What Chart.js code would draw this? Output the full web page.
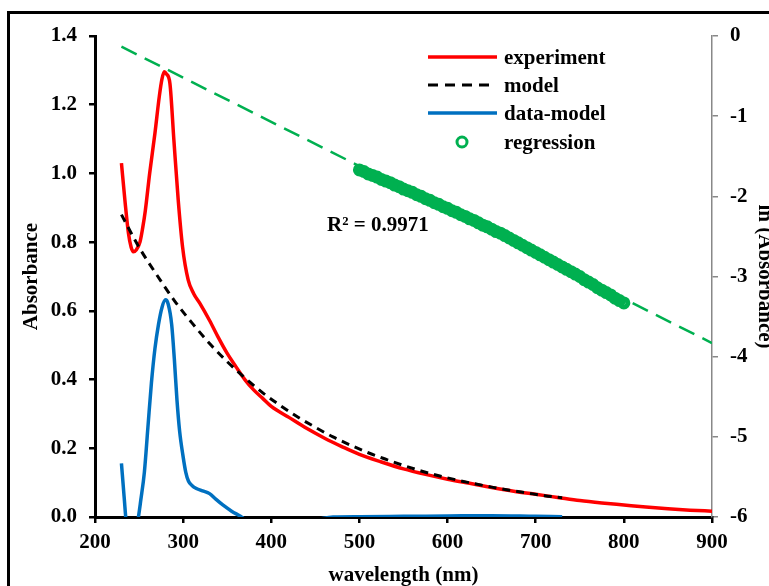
<!DOCTYPE html>
<html>
<head>
<meta charset="utf-8">
<script src="https://cdn.jsdelivr.net/npm/chart.js@4/dist/chart.umd.min.js"></script>
<style>
  html, body { margin: 0; padding: 0; background: #fff; overflow: hidden; }
  #wrap { position: relative; width: 769px; height: 586px; }
  #frame { position: absolute; left: 7px; top: 11px; width: 900px; height: 700px; border: 3px solid #000; }
  #main-chart { position: absolute; left: 0; top: 0; }
</style>
</head>
<body>
<div id="wrap">
  <div id="frame"></div>
  <canvas id="main-chart" width="769" height="586"></canvas>
</div>
<script>
// experiment (absorbance vs wavelength, nm)
const expWl = [230, 234, 238, 241, 243.5, 247, 251, 254, 257, 262, 268, 273, 276, 278.5, 281, 285, 289.5, 294.4, 299.3, 305.7, 312, 319, 330, 340, 350, 360, 370, 380, 390, 400, 420, 440, 460, 480, 500, 525, 550, 575, 600, 625, 650, 675, 700, 725, 750, 775, 800, 825, 850, 875, 900]
const expAbs = [1.03, 0.92, 0.825, 0.785, 0.772, 0.778, 0.80, 0.84, 0.89, 1.00, 1.117, 1.225, 1.275, 1.296, 1.29, 1.262, 1.097, 0.923, 0.787, 0.69, 0.65, 0.622, 0.572, 0.522, 0.476, 0.437, 0.40, 0.37, 0.346, 0.322, 0.29, 0.258, 0.23, 0.205, 0.182, 0.16, 0.14, 0.124, 0.11, 0.098, 0.086, 0.075, 0.066, 0.057, 0.048, 0.041, 0.035, 0.029, 0.024, 0.02, 0.017]

// model
const modelWl = [230, 250, 270, 290, 310, 330, 350, 370, 390, 410, 430, 450, 470, 490, 510, 530, 550, 570, 590, 610, 630, 650, 670, 690, 710, 730]
const modelAbs = [0.88, 0.785, 0.705, 0.63, 0.565, 0.505, 0.452, 0.405, 0.362, 0.325, 0.291, 0.261, 0.233, 0.209, 0.187, 0.168, 0.15, 0.134, 0.12, 0.108, 0.097, 0.087, 0.078, 0.07, 0.062, 0.056]

// data - model
const diffWl = [230, 233, 236, 240, 244, 248, 252, 256, 260, 264, 268, 272, 276, 280, 283, 287, 290, 293, 296, 300, 303, 306, 310, 315, 322, 330, 337, 345, 355, 365, 372, 390, 420, 450, 470, 500, 550, 600, 650, 700, 730]
const diffAbs = [0.156, 0.06, -0.03, -0.06, -0.06, -0.02, 0.05, 0.13, 0.26, 0.39, 0.49, 0.56, 0.61, 0.632, 0.62, 0.56, 0.46, 0.34, 0.25, 0.175, 0.13, 0.105, 0.092, 0.083, 0.076, 0.068, 0.052, 0.035, 0.017, 0.002, -0.01, -0.02, -0.015, -0.008, 0.0, 0.001, 0.002, 0.003, 0.004, 0.002, 0.001]

// ln(absorbance) points used for the regression, 500-800 nm
const regWl = [500, 505, 510, 515, 520, 525, 530, 535, 540, 545, 550, 555, 560, 565, 570, 575, 580, 585, 590, 595, 600, 605, 610, 615, 620, 625, 630, 635, 640, 645, 650, 655, 660, 665, 670, 675, 680, 685, 690, 695, 700, 705, 710, 715, 720, 725, 730, 735, 740, 745, 750, 755, 760, 765, 770, 775, 780, 785, 790, 795, 800]
const regLn = [-1.67, -1.69, -1.72, -1.74, -1.76, -1.79, -1.81, -1.83, -1.86, -1.88, -1.91, -1.93, -1.95, -1.98, -2.00, -2.03, -2.05, -2.08, -2.10, -2.13, -2.15, -2.18, -2.20, -2.23, -2.25, -2.28, -2.30, -2.33, -2.36, -2.38, -2.41, -2.44, -2.46, -2.49, -2.52, -2.55, -2.58, -2.61, -2.64, -2.67, -2.70, -2.73, -2.76, -2.79, -2.82, -2.85, -2.88, -2.91, -2.94, -2.97, -3.00, -3.04, -3.07, -3.10, -3.14, -3.17, -3.20, -3.23, -3.27, -3.30, -3.33]

// fitted line on the ln axis
const fitWl = [230, 900]
const fitLn = [-0.133, -3.83]
const rSquared = 'R² = 0.9971'

const xTicks = [200, 300, 400, 500, 600, 700, 800, 900]

const RED = '#ff0000'
const BLUE = '#0070c0'
const GREEN = '#00b050'
const FONT = '"Liberation Serif", "Times New Roman", serif'

const toPoints = (xs, ys) => xs.map((x, i) => ({ x: x, y: ys[i] }))

const overlayPlugin = {
  id: 'overlay',
  afterDatasetsDraw(chart) {
    const ctx = chart.ctx
    ctx.save()
    ctx.font = `bold 21px ${FONT}`
    ctx.fillStyle = '#000'
    ctx.textAlign = 'left'
    ctx.textBaseline = 'alphabetic'

    const items = [
      { label: 'experiment', y: 57, kind: 'line', color: RED, width: 3.5, dash: [] },
      { label: 'model', y: 85, kind: 'line', color: '#000', width: 3, dash: [10, 7] },
      { label: 'data-model', y: 113, kind: 'line', color: BLUE, width: 3.5, dash: [] },
      { label: 'regression', y: 142, kind: 'point', color: GREEN }
    ]
    items.forEach(item => {
      if (item.kind === 'line') {
        ctx.beginPath()
        ctx.setLineDash(item.dash)
        ctx.strokeStyle = item.color
        ctx.lineWidth = item.width
        ctx.moveTo(428, item.y)
        ctx.lineTo(item.dash.length ? 490 : 497, item.y)
        ctx.stroke()
        ctx.setLineDash([])
      } else {
        ctx.beginPath()
        ctx.strokeStyle = item.color
        ctx.lineWidth = 3
        ctx.arc(462, item.y, 5, 0, Math.PI * 2)
        ctx.stroke()
      }
      ctx.fillText(item.label, 504, item.y + 7)
    })

    ctx.fillText(rSquared, 327, 231)
    ctx.restore()
  }
}

const runChart = () => {
  const chartCanvas = document.getElementById('main-chart')
  const chartContext = chartCanvas.getContext('2d')

  Chart.defaults.font.family = FONT
  Chart.defaults.font.size = 21
  Chart.defaults.font.weight = 'bold'
  Chart.defaults.color = '#000'

  const myChart = new Chart(chartContext, {
    type: 'line',
    data: {
      datasets: [
        {
          label: 'regression',
          data: toPoints(regWl, regLn),
          yAxisID: 'y2',
          showLine: false,
          pointRadius: 4,
          pointBorderWidth: 5,
          pointBorderColor: GREEN,
          pointBackgroundColor: 'rgba(0,0,0,0)',
          order: 0
        },
        {
          label: 'fit',
          data: toPoints(fitWl, fitLn),
          yAxisID: 'y2',
          borderColor: GREEN,
          borderWidth: 2.5,
          borderDash: [17, 9],
          pointRadius: 0,
          order: 1
        },
        {
          label: 'model',
          data: toPoints(modelWl, modelAbs),
          borderColor: '#000',
          borderWidth: 3,
          borderDash: [8, 6],
          pointRadius: 0,
          cubicInterpolationMode: 'monotone',
          order: 2
        },
        {
          label: 'data-model',
          data: toPoints(diffWl, diffAbs),
          borderColor: BLUE,
          borderWidth: 3.5,
          pointRadius: 0,
          cubicInterpolationMode: 'monotone',
          order: 3
        },
        {
          label: 'experiment',
          data: toPoints(expWl, expAbs),
          borderColor: RED,
          borderWidth: 3.5,
          pointRadius: 0,
          cubicInterpolationMode: 'monotone',
          order: 4
        }
      ]
    },
    options: {
      responsive: false,
      animation: false,
      devicePixelRatio: 1,
      layout: { padding: { top: 36, left: 0, right: 0, bottom: 0 } },
      plugins: {
        legend: { display: false },
        tooltip: { enabled: false }
      },
      scales: {
        x: {
          type: 'linear',
          position: 'bottom',
          min: 200,
          max: 900,
          afterFit: scale => { scale.height = 69 },
          afterBuildTicks: scale => { scale.ticks = xTicks.map(v => ({ value: v })) },
          border: { display: true, color: '#000', width: 3 },
          grid: { drawOnChartArea: false, drawTicks: true, tickLength: 6, color: '#000', lineWidth: 2.5 },
          ticks: { padding: 7, maxRotation: 0, autoSkip: false },
          title: { display: true, text: 'wavelength (nm)', padding: { top: 0, bottom: -2 } }
        },
        y: {
          type: 'linear',
          position: 'left',
          min: 0,
          max: 1.4,
          afterFit: scale => { scale.width = 95 },
          border: { display: true, color: '#000', width: 3 },
          grid: { drawOnChartArea: false, drawTicks: true, tickLength: 6, color: '#000', lineWidth: 2.5 },
          ticks: { stepSize: 0.2, padding: 12, callback: v => v.toFixed(1) },
          title: { display: true, text: 'Absorbance', padding: { top: 19, bottom: 0 } }
        },
        y2: {
          type: 'linear',
          position: 'right',
          min: -6,
          max: 0,
          afterFit: scale => { scale.width = 57 },
          border: { display: true, color: '#888', width: 1.5 },
          grid: { drawOnChartArea: false, drawTicks: true, tickLength: 6, color: '#888', lineWidth: 1.5 },
          ticks: { stepSize: 1, padding: 12 },
          title: { display: true, text: 'ln (Absorbance)', padding: { top: -8, bottom: 0 } }
        }
      }
    },
    plugins: [overlayPlugin]
  })

  window.myChart = myChart
}

runChart()
</script>
</body>
</html>
